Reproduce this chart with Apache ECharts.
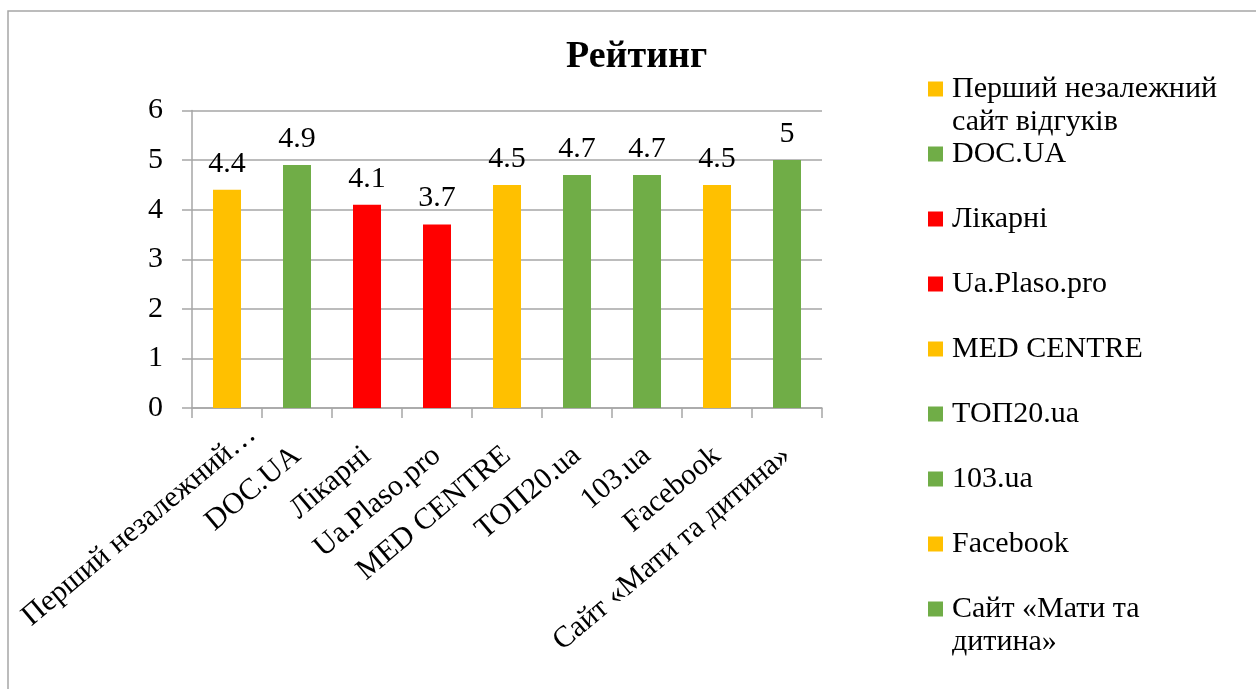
<!DOCTYPE html>
<html>
<head>
<meta charset="utf-8">
<script src="https://cdn.jsdelivr.net/npm/echarts@6/dist/echarts.min.js"></script>
<style>
  html, body { margin: 0; padding: 0; background: #fff; }
  #chart-container { width: 1256px; height: 689px; }
</style>
</head>
<body>
<div id="chart-container"></div>
<script>
var categories = ['Перший незалежний сайт відгуків', 'DOC.UA', 'Лікарні', 'Ua.Plaso.pro', 'MED CENTRE', 'ТОП20.ua', '103.ua', 'Facebook', 'Сайт «Мати та дитина»'];
var ratings = [4.4, 4.9, 4.1, 3.7, 4.5, 4.7, 4.7, 4.5, 5];
var barColors = ['#FFC000', '#70AD47', '#FF0000', '#FF0000', '#FFC000', '#70AD47', '#70AD47', '#FFC000', '#70AD47'];
var legendLabels = ['Перший незалежний\nсайт відгуків', 'DOC.UA', 'Лікарні', 'Ua.Plaso.pro', 'MED CENTRE', 'ТОП20.ua', '103.ua', 'Facebook', 'Сайт «Мати та\nдитина»'];
var yMin = 0, yMax = 6, yStep = 1;

var font = '"Liberation Serif", "Times New Roman", serif';
var dom = document.getElementById('chart-container');
var myChart = echarts.init(dom, null, { renderer: 'canvas' });

// one series per site so every bar gets its own legend entry
var series = categories.map(function (name, i) {
  return {
    name: name,
    type: 'bar',
    stack: 'rating',
    barWidth: 28,
    itemStyle: { color: barColors[i] },
    label: {
      show: true,
      position: 'top',
      distance: 11,
      fontFamily: font,
      fontSize: 30,
      color: '#000'
    },
    data: ratings.map(function (v, j) { return j === i ? v : '-'; })
  };
});

// legend items sit on a fixed 65px pitch, icon lined up with the first text line
// (two-line items get an empty line on top so the first real line is centred on the icon)
var legends = categories.map(function (name, i) {
  var multi = legendLabels[i].indexOf('\n') >= 0;
  return {
    orient: 'vertical',
    left: 928,
    top: 89 + 65 * i - (multi ? 49.5 : 16.5),
    padding: 0,
    icon: 'rect',
    itemWidth: 15,
    itemHeight: 15,
    selectedMode: false,
    formatter: function () { return multi ? ' \n' + legendLabels[i] : legendLabels[i]; },
    textStyle: { fontFamily: font, fontSize: 30, lineHeight: 33, color: '#000', padding: [0, 0, 0, 4] },
    data: [name]
  };
});

// the truncated first label sits a bit further along its diagonal, like in Excel
var xData = categories.map(function (c, i) {
  return i === 0 ? { value: c, textStyle: { padding: [0, -33, 0, 0] } } : c;
});

var option = {
  animation: false,
  backgroundColor: '#fff',
  title: {
    text: 'Рейтинг',
    left: 566,
    top: 38,
    padding: 0,
    textStyle: { fontFamily: font, fontSize: 38, fontWeight: 'bold', color: '#000' }
  },
  graphic: [{
    type: 'rect',
    shape: { x: 8, y: 11, width: 1300, height: 720 },
    style: { fill: 'none', stroke: '#a6a6a6', lineWidth: 1.5 },
    silent: true
  }],
  legend: legends,
  grid: { left: 192, right: 434, top: 110.5, bottom: 281, outerBoundsMode: 'none' },
  xAxis: {
    type: 'category',
    data: xData,
    axisLine: { lineStyle: { color: '#a6a6a6', width: 1.5 } },
    axisTick: { show: true, length: 10, lineStyle: { color: '#a6a6a6', width: 1.5 } },
    axisLabel: {
      interval: 0,
      rotate: 40,
      margin: 44,
      fontFamily: font,
      fontSize: 30,
      color: '#000',
      formatter: function (v) { return v.length > 25 ? v.slice(0, 17) + '…' : v; }
    }
  },
  yAxis: {
    type: 'value',
    min: yMin,
    max: yMax,
    interval: yStep,
    axisLine: { show: true, lineStyle: { color: '#a6a6a6', width: 1.5 } },
    axisTick: { show: true, length: 10, lineStyle: { color: '#a6a6a6', width: 1.5 } },
    splitLine: { lineStyle: { color: '#a6a6a6', width: 1.5 } },
    axisLabel: { margin: 29, fontFamily: font, fontSize: 30, color: '#000' }
  },
  series: series
};

if (option && typeof option === 'object') {
  myChart.setOption(option);
}

window.addEventListener('resize', myChart.resize);
</script>
</body>
</html>
